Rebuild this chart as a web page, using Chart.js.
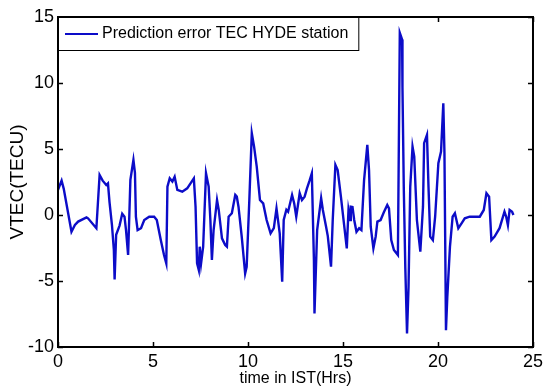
<!DOCTYPE html>
<html><head><meta charset="utf-8">
<script src="https://cdn.jsdelivr.net/npm/chart.js@4.4.0/dist/chart.umd.min.js"></script>
<style>html,body{margin:0;padding:0;background:#fff;overflow:hidden}canvas{display:block}</style>
</head><body>
<canvas id="c" width="547" height="388"></canvas>
<script>
const seriesLabel = 'Prediction error TEC HYDE station';
const xTitle = 'time in IST(Hrs)';
const yTitle = 'VTEC(TECU)';
const xTicks = [0, 5, 10, 15, 20, 25];
const yTicks = [-10, -5, 0, 5, 10, 15];
const timeHours = [
  0.0, 0.19, 0.3, 0.71, 0.89, 1.06, 1.5, 1.58, 2.02, 2.19,
  2.35, 2.54, 2.63, 2.71, 2.84, 2.94, 2.98, 3.06, 3.24, 3.38,
  3.5, 3.58, 3.69, 3.81, 3.97, 4.05, 4.1, 4.19, 4.37, 4.54,
  4.8, 5.06, 5.2, 5.41, 5.58, 5.7, 5.76, 5.88, 6.02, 6.14,
  6.28, 6.54, 6.8, 7.15, 7.24, 7.32, 7.41, 7.46, 7.53, 7.64,
  7.79, 7.93, 8.02, 8.1, 8.19, 8.37, 8.46, 8.63, 8.8, 8.89,
  8.98, 9.15, 9.33, 9.41, 9.5, 9.67, 9.85, 9.93, 10.07, 10.2,
  10.32, 10.46, 10.63, 10.8, 10.98, 11.19, 11.36, 11.5, 11.67, 11.8,
  11.88, 12.02, 12.11, 12.32, 12.43, 12.54, 12.72, 12.84, 12.98, 13.1,
  13.24, 13.36, 13.47, 13.5, 13.64, 13.85, 13.94, 14.11, 14.2, 14.37,
  14.46, 14.6, 14.72, 14.89, 15.03, 15.2, 15.29, 15.38, 15.41, 15.5,
  15.59, 15.71, 15.85, 15.97, 16.11, 16.28, 16.37, 16.46, 16.6, 16.72,
  16.81, 16.98, 17.15, 17.33, 17.42, 17.54, 17.68, 17.89, 17.99, 18.11,
  18.13, 18.2, 18.28, 18.37, 18.45, 18.54, 18.66, 18.75, 18.89, 19.07,
  19.21, 19.27, 19.42, 19.5, 19.59, 19.73, 19.85, 20.02, 20.16, 20.28,
  20.34, 20.42, 20.49, 20.63, 20.77, 20.89, 21.07, 21.24, 21.41, 21.67,
  22.2, 22.41, 22.55, 22.69, 22.81, 22.98, 23.24, 23.5, 23.59, 23.68,
  23.77, 23.9, 23.97
];
const errorTEC = [
  1.9, 2.6, 2.0, -1.27, -0.76, -0.5, -0.18, -0.25, -1.0, 3.03,
  2.6, 2.27, 2.4, 1.0, -0.76, -2.65, -4.88, -1.5, -0.8, 0.1,
  -0.13, -1.14, -3.03, 2.66, 4.17, 3.2, -0.13, -1.14, -1.0, -0.38,
  -0.13, -0.13, -0.38, -1.9, -3.03, -3.67, 2.15, 2.78, 2.53, 2.9,
  1.9, 1.77, 2.02, 2.78, 0.63, -3.67, -4.17, -2.4, -3.67, -2.4,
  3.16, 2.15, -0.38, -3.41, -1.14, 1.14, 0.38, -1.77, -2.28, -2.4,
  -0.13, 0.13, 1.52, 1.39, 0.63, -1.64, -4.43, -3.92, 1.14, 6.2,
  5.18, 3.67, 1.14, 0.88, -0.38, -1.39, -1.0, 0.5, -1.39, -5.06,
  -0.38, 0.4, 0.25, 1.52, 0.9, -0.13, 1.65, 1.14, 1.39, 2.0,
  2.6, 3.16, -3.41, -7.46, -1.14, 1.27, 0.38, -0.89, -1.6, -3.92,
  -0.38, 3.8, 3.41, 1.39, -0.38, -2.53, 0.38, -0.38, 0.63, 0.6,
  -0.38, -1.27, -1.0, -1.14, 2.65, 5.31, 3.41, -0.89, -2.53, -1.64,
  -0.5, -0.38, 0.2, 0.76, 0.5, -1.9, -2.65, -3.03, 13.8, 13.3,
  9.7, 2.0, -4.0, -8.98, -5.44, 2.15, 5.18, 4.42, -0.38, -2.78,
  0.63, 5.44, 6.07, 2.15, -1.64, -1.9, -0.13, 3.92, 4.8, 8.47,
  4.68, -8.73, -6.2, -2.4, -0.13, 0.13, -1.0, -0.63, -0.25, -0.13,
  -0.13, 0.38, 1.65, 1.39, -1.9, -1.64, -1.0, 0.25, -0.13, -0.76,
  0.38, 0.25, 0.0
];

const FONT = "'Liberation Sans',Arial,Helvetica,sans-serif";
const LINE_COLOR = '#0c0cc8';

const boxPlugin = {
  id: 'matlabBox',
  afterDatasetsDraw(chart) {
    const {ctx, chartArea: a, scales} = chart;
    ctx.save();
    ctx.strokeStyle = '#000';
    ctx.lineWidth = 1.5;
    const tl = 5;
    ctx.beginPath();
    xTicks.forEach(v => {
      const px = Math.round(scales.x.getPixelForValue(v)) + 0.5;
      ctx.moveTo(px, a.bottom); ctx.lineTo(px, a.bottom - tl);
      ctx.moveTo(px, a.top); ctx.lineTo(px, a.top + tl);
    });
    yTicks.forEach(v => {
      const py = Math.round(scales.y.getPixelForValue(v)) + 0.5;
      ctx.moveTo(a.left, py); ctx.lineTo(a.left + tl, py);
      ctx.moveTo(a.right, py); ctx.lineTo(a.right - tl, py);
    });
    ctx.stroke();
    ctx.lineWidth = 2;
    ctx.strokeRect(a.left, a.top, a.right - a.left, a.bottom - a.top);
    // legend box (top-left, inside the axes)
    ctx.font = '16px ' + FONT;
    const tw = ctx.measureText(seriesLabel).width;
    const lx = a.left, ly = a.top, lh = 33;
    const lw = 7 + 33 + 4 + tw + 10;
    ctx.fillStyle = '#fff';
    ctx.fillRect(lx, ly, lw, lh);
    ctx.lineWidth = 1;
    ctx.strokeRect(lx + 0.5, ly + 0.5, lw, lh);
    ctx.lineWidth = 2;
    ctx.beginPath();
    ctx.moveTo(lx, ly); ctx.lineTo(lx + lw, ly);
    ctx.stroke();
    ctx.strokeStyle = LINE_COLOR;
    ctx.beginPath();
    ctx.moveTo(lx + 7, ly + 17); ctx.lineTo(lx + 40, ly + 17);
    ctx.stroke();
    ctx.fillStyle = '#000';
    ctx.textBaseline = 'middle';
    ctx.fillText(seriesLabel, lx + 44, ly + 17);
    ctx.restore();
  }
};

new Chart(document.getElementById('c'), {
  type: 'line',
  data: {
    datasets: [{
      label: seriesLabel,
      data: timeHours.map((t, i) => ({x: t, y: errorTEC[i]})),
      borderColor: LINE_COLOR,
      borderWidth: 2.4,
      pointRadius: 0,
      tension: 0,
      fill: false
    }]
  },
  options: {
    responsive: false,
    animation: false,
    devicePixelRatio: 1,
    layout: {padding: {top: 17, right: 10, left: 0, bottom: 0}},
    plugins: {legend: {display: false}, tooltip: {enabled: false}},
    scales: {
      x: {
        type: 'linear', min: 0, max: 25,
        afterBuildTicks: s => { s.ticks = xTicks.map(v => ({value: v})); },
        afterFit: s => { s.height = 41; },
        grid: {display: false, drawTicks: false},
        border: {display: false},
        ticks: {color: '#000', font: {family: FONT, size: 18}, padding: 4, maxRotation: 0},
        title: {display: true, text: xTitle, color: '#000', font: {family: FONT, size: 16}, padding: 0}
      },
      y: {
        type: 'linear', min: -10, max: 15,
        afterBuildTicks: s => { s.ticks = yTicks.map(v => ({value: v})); },
        afterFit: s => { s.width = 58; },
        grid: {display: false, drawTicks: false},
        border: {display: false},
        ticks: {color: '#000', font: {family: FONT, size: 18}, padding: 4},
        title: {display: true, text: yTitle, color: '#000', font: {family: FONT, size: 19}, padding: {top: 6, bottom: 0}}
      }
    }
  },
  plugins: [boxPlugin]
});
</script>
</body></html>
